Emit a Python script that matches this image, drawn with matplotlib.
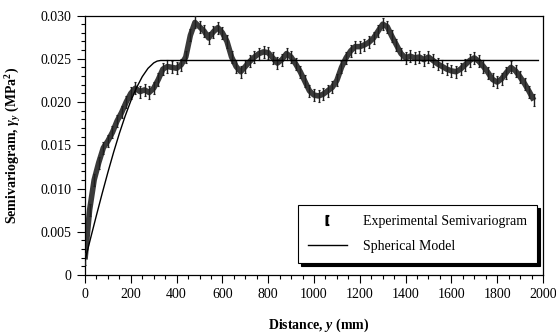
import matplotlib
matplotlib.use("Agg")
import matplotlib.pyplot as plt
from matplotlib.lines import Line2D
from matplotlib.ticker import MultipleLocator, FuncFormatter

plt.rcParams['font.family'] = ['Liberation Serif', 'DejaVu Serif']
plt.rcParams['mathtext.fontset'] = 'custom'
plt.rcParams['mathtext.rm'] = 'Liberation Serif:bold'
plt.rcParams['mathtext.it'] = 'Liberation Serif:italic:bold'
plt.rcParams['mathtext.bf'] = 'Liberation Serif:bold'

# experimental semivariogram (lag in mm, value in MPa^2)
lag = list(range(0, 1980, 20))
gamma_exp = [
    0.0018, 0.0075, 0.0110, 0.0130, 0.0147, 0.0155, 0.0165, 0.0178, 0.0188, 0.0200,
    0.0210, 0.0216, 0.0212, 0.0214, 0.0211, 0.0216, 0.0226, 0.0238, 0.0241, 0.0240,
    0.0239, 0.0243, 0.0252, 0.0277, 0.0292, 0.0287, 0.0282, 0.0274, 0.0281, 0.0286,
    0.0280, 0.0270, 0.0252, 0.0241, 0.0235, 0.0241, 0.0247, 0.0252, 0.0256, 0.0258,
    0.0257, 0.0251, 0.0245, 0.0249, 0.0256, 0.0252, 0.0244, 0.0235, 0.0224, 0.0213,
    0.0208, 0.0207, 0.0209, 0.0213, 0.0217, 0.0225, 0.0240, 0.0251, 0.0259, 0.0264,
    0.0264, 0.0266, 0.0269, 0.0274, 0.0282, 0.0290, 0.0287, 0.0276, 0.0266, 0.0256,
    0.0251, 0.0253, 0.0251, 0.0252, 0.0249, 0.0252, 0.0248, 0.0244, 0.0241, 0.0238,
    0.0236, 0.0235, 0.0238, 0.0243, 0.0248, 0.0251, 0.0247, 0.0241, 0.0234, 0.0226,
    0.0223, 0.0227, 0.0234, 0.0240, 0.0236, 0.0229, 0.0221, 0.0212, 0.0202,
]
gamma_err = 0.0007

# fitted spherical model
lag_model = [0, 25, 50, 75, 100, 125, 150, 175, 200, 225, 250, 275, 300, 315, 330, 1980]
gamma_model = [0.0017, 0.00432, 0.00691, 0.00944, 0.01188, 0.0142, 0.01637, 0.01835,
               0.02013, 0.02166, 0.02293, 0.02389, 0.02452, 0.02473, 0.0248, 0.0248]

fig = plt.figure(figsize=(5.56, 3.35), dpi=100)
ax = fig.add_axes([0.1529, 0.1791, 0.8237, 0.7746])

# dense band of experimental points with their error bars
ax.plot(lag, gamma_exp, color='#3a3a3a', lw=4.0, solid_capstyle='butt', zorder=2)
ax.errorbar(lag, gamma_exp, yerr=gamma_err, fmt='none', ecolor='#1e1e1e',
            elinewidth=1.0, capsize=1.0, capthick=0.8, zorder=3)
ax.plot(lag_model, gamma_model, color='black', lw=1.0, zorder=4)

ax.set_xlim(0, 2000)
ax.set_ylim(0, 0.030)
ax.xaxis.set_major_locator(MultipleLocator(200))
ax.xaxis.set_minor_locator(MultipleLocator(50))
ax.yaxis.set_major_locator(MultipleLocator(0.005))
ax.yaxis.set_minor_locator(MultipleLocator(0.001))
ax.yaxis.set_major_formatter(FuncFormatter(lambda t, _: '0' if abs(t) < 1e-9 else f'{t:.3f}'))
ax.tick_params(which='major', length=6, width=0.8, labelsize=10, direction='out')
ax.tick_params(which='minor', length=3, width=0.8, direction='out')
for s in ax.spines.values():
    s.set_linewidth(0.9)

ax.set_xlabel(r'Distance, $y$ (mm)', fontweight='bold', fontsize=10)
ax.xaxis.set_label_coords(0.51, -0.16)
ax.set_ylabel(r'Semivariogram, $\gamma_y$ (MPa$^2$)', fontweight='bold', fontsize=10, labelpad=13)

handles = [
    Line2D([], [], ls='none', marker='$[$', color='black', markersize=7),
    Line2D([], [], color='black', lw=1.0),
]
leg = ax.legend(handles, ['Experimental Semivariogram', 'Spherical Model'],
                loc='lower right', bbox_to_anchor=(0.987, 0.046), borderaxespad=0,
                fancybox=False, shadow={'color': 'black', 'alpha': 1}, frameon=True,
                edgecolor='black', fontsize=10, handlelength=2.8, handletextpad=1.2,
                borderpad=0.7, labelspacing=0.9)
leg.get_frame().set_linewidth(0.8)

fig.savefig('out.png', dpi=100)
